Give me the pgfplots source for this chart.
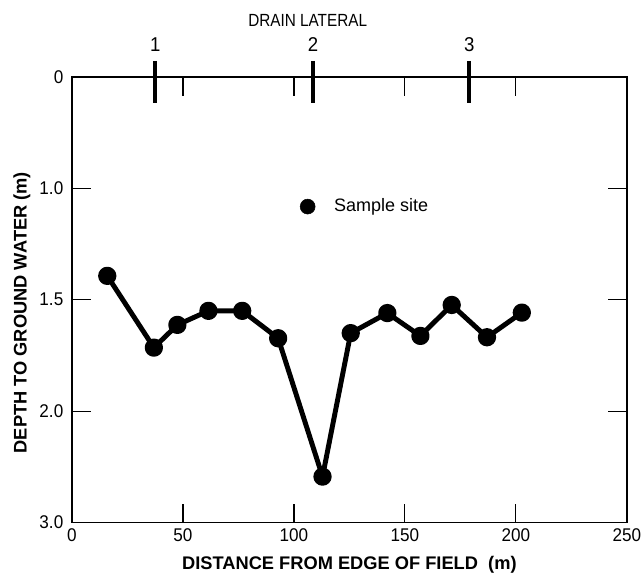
\documentclass[border=0pt]{standalone}
\usepackage{fontspec}
\setmainfont{Liberation Sans}
\newfontfamily\cond[FakeStretch=0.93]{Liberation Sans}
\newfontfamily\vcond[FakeStretch=0.87]{Liberation Sans}
\usepackage{pgfplots}
\pgfplotsset{compat=1.18}
\begin{document}
\begin{tikzpicture}
\begin{axis}[
  scale only axis,
  width=416.25pt, height=334.3pt,
  xmin=0, xmax=250, ymin=0, ymax=4,
  y dir=reverse,
  clip=false,
  axis line style={line width=1.1pt},
  xtick={0,50,100,150,200,250},
  xticklabels={0,50,100,150,200,250},
  ytick={0,1,2,3,4},
  yticklabels={0,1.0,1.5,2.0,3.0},
  tick align=inside,
  major tick length=14pt,
  tick style={line width=0.9pt, black},
  xtick pos=both, ytick pos=both,
  xticklabel pos=lower, yticklabel pos=left,
  ticklabel style={font=\cond\fontsize{13.8}{16}\selectfont},
  yticklabel style={xshift=-3pt},
  xticklabel style={yshift=-1pt},
  xlabel={\bfseries DISTANCE FROM EDGE OF FIELD\ \ (m)},
  ylabel={\bfseries DEPTH TO GROUND WATER (m)},
  label style={font=\fontsize{13.7}{15}\selectfont},
  xlabel style={yshift=-4pt},
  ylabel style={at={(ticklabel cs:0.471)}},
]
\addplot[black, line width=3.7pt, line join=round, mark=*, mark size=5pt, mark options={fill=black}]
coordinates {
(15.9,1.786) (36.9,2.43) (47.5,2.226) (61.5,2.10) (76.7,2.10) (92.9,2.346)
(112.9,3.588) (125.6,2.30) (142.1,2.12) (157.0,2.325) (171.1,2.047) (187.0,2.337) (202.7,2.116)
};
\addplot[only marks, mark=*, mark size=5.6pt, black] coordinates {(106.2,1.164)};
\node[anchor=west, font=\fontsize{13.5}{15}\selectfont] at (axis cs:116,1.164) {Sample site};
% drain laterals
\addplot[black, line width=3.3pt] coordinates {(37.5,-0.144) (37.5,0.235)};
\addplot[black, line width=3.3pt] coordinates {(108.6,-0.144) (108.6,0.235)};
\addplot[black, line width=3.3pt] coordinates {(179,-0.144) (179,0.235)};
\node[font=\cond\fontsize{15}{17}\selectfont] at (axis cs:37.5,-0.29) {1};
\node[font=\cond\fontsize{15}{17}\selectfont] at (axis cs:108.6,-0.29) {2};
\node[font=\cond\fontsize{15}{17}\selectfont] at (axis cs:179,-0.29) {3};
\node[font=\vcond\fontsize{13.2}{15}\selectfont] at (axis cs:106.2,-0.51) {DRAIN LATERAL};
\end{axis}
\pgfresetboundingbox
\path[use as bounding box] (-54pt,-38.5pt) rectangle (428.4pt,392pt);
\end{tikzpicture}
\end{document}
